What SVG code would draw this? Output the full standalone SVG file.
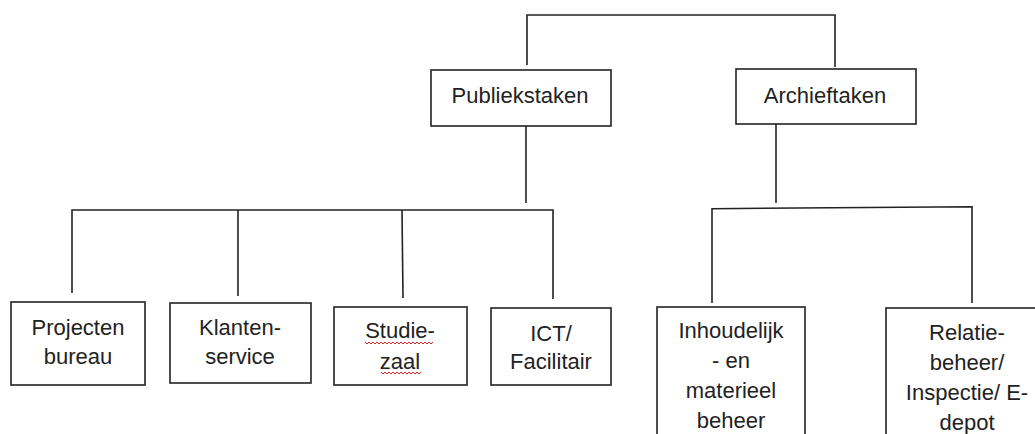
<svg xmlns="http://www.w3.org/2000/svg" width="1035" height="434" viewBox="0 0 1035 434">
<style>
.box{fill:#fff;stroke:#222;stroke-width:1.6}
.ln{fill:none;stroke:#222;stroke-width:1.6}
.t{font-family:"Liberation Sans",Arial,sans-serif;font-size:22px;fill:#222;text-anchor:middle}
.sq{fill:none;stroke:#d22;stroke-width:1}
</style>
<rect width="1035" height="434" fill="#fff"/>
<g id="connectors">
<path class="ln" d="M527 65V15H835V67"/>
<path class="ln" d="M526 126V203"/>
<path class="ln" d="M72 293V210H553V299"/>
<path class="ln" d="M238 210V296"/>
<path class="ln" d="M402 210L403 298"/>
<path class="ln" d="M776 124V203"/>
<path class="ln" d="M712 303V208.7L972 206.7V303"/>
</g>
<g id="publiekstaken">
<rect class="box" x="431" y="70" width="180" height="56"/>
<text class="t" x="520" y="103">Publiekstaken</text>
</g>
<g id="archieftaken">
<rect class="box" x="736" y="69" width="180" height="55"/>
<text class="t" x="825" y="103">Archieftaken</text>
</g>
<g id="projectenbureau">
<rect class="box" x="11" y="302" width="134" height="83"/>
<text class="t" x="78" y="335">Projecten</text>
<text class="t" x="78" y="364">bureau</text>
</g>
<g id="klantenservice">
<rect class="box" x="170" y="303" width="141" height="80"/>
<text class="t" x="240" y="335">Klanten-</text>
<text class="t" x="240" y="364">service</text>
</g>
<g id="studiezaal">
<rect class="box" x="334" y="307" width="133" height="78"/>
<text class="t" x="400" y="338">Studie-</text>
<text class="t" x="400" y="369">zaal</text>
<path class="sq" d="M365 342l2 2 2-2 2 2 2-2 2 2 2-2 2 2 2-2 2 2 2-2 2 2 2-2 2 2 2-2 2 2 2-2 2 2 2-2 2 2 2-2 2 2 2-2 2 2 2-2 2 2 2-2 2 2 2-2 2 2 2-2 2 2 2-2 2 2 2-2"/>
<path class="sq" d="M381 372l2 2 2-2 2 2 2-2 2 2 2-2 2 2 2-2 2 2 2-2 2 2 2-2 2 2 2-2 2 2 2-2 2 2 2-2 2 2 2-2"/>
</g>
<g id="ictfacilitair">
<rect class="box" x="491" y="308" width="120" height="77"/>
<text class="t" x="551" y="341">ICT/</text>
<text class="t" x="551" y="369">Facilitair</text>
</g>
<g id="inhoudelijk">
<rect class="box" x="657" y="307" width="148" height="140"/>
<text class="t" x="731" y="338">Inhoudelijk</text>
<text class="t" x="731" y="368">- en</text>
<text class="t" x="731" y="398">materieel</text>
<text class="t" x="731" y="428">beheer</text>
</g>
<g id="relatiebeheer">
<rect class="box" x="886" y="308" width="160" height="140"/>
<text class="t" x="967" y="340">Relatie-</text>
<text class="t" x="967" y="370">beheer/</text>
<text class="t" x="967" y="400">Inspectie/ E-</text>
<text class="t" x="967" y="430">depot</text>
</g>
</svg>
